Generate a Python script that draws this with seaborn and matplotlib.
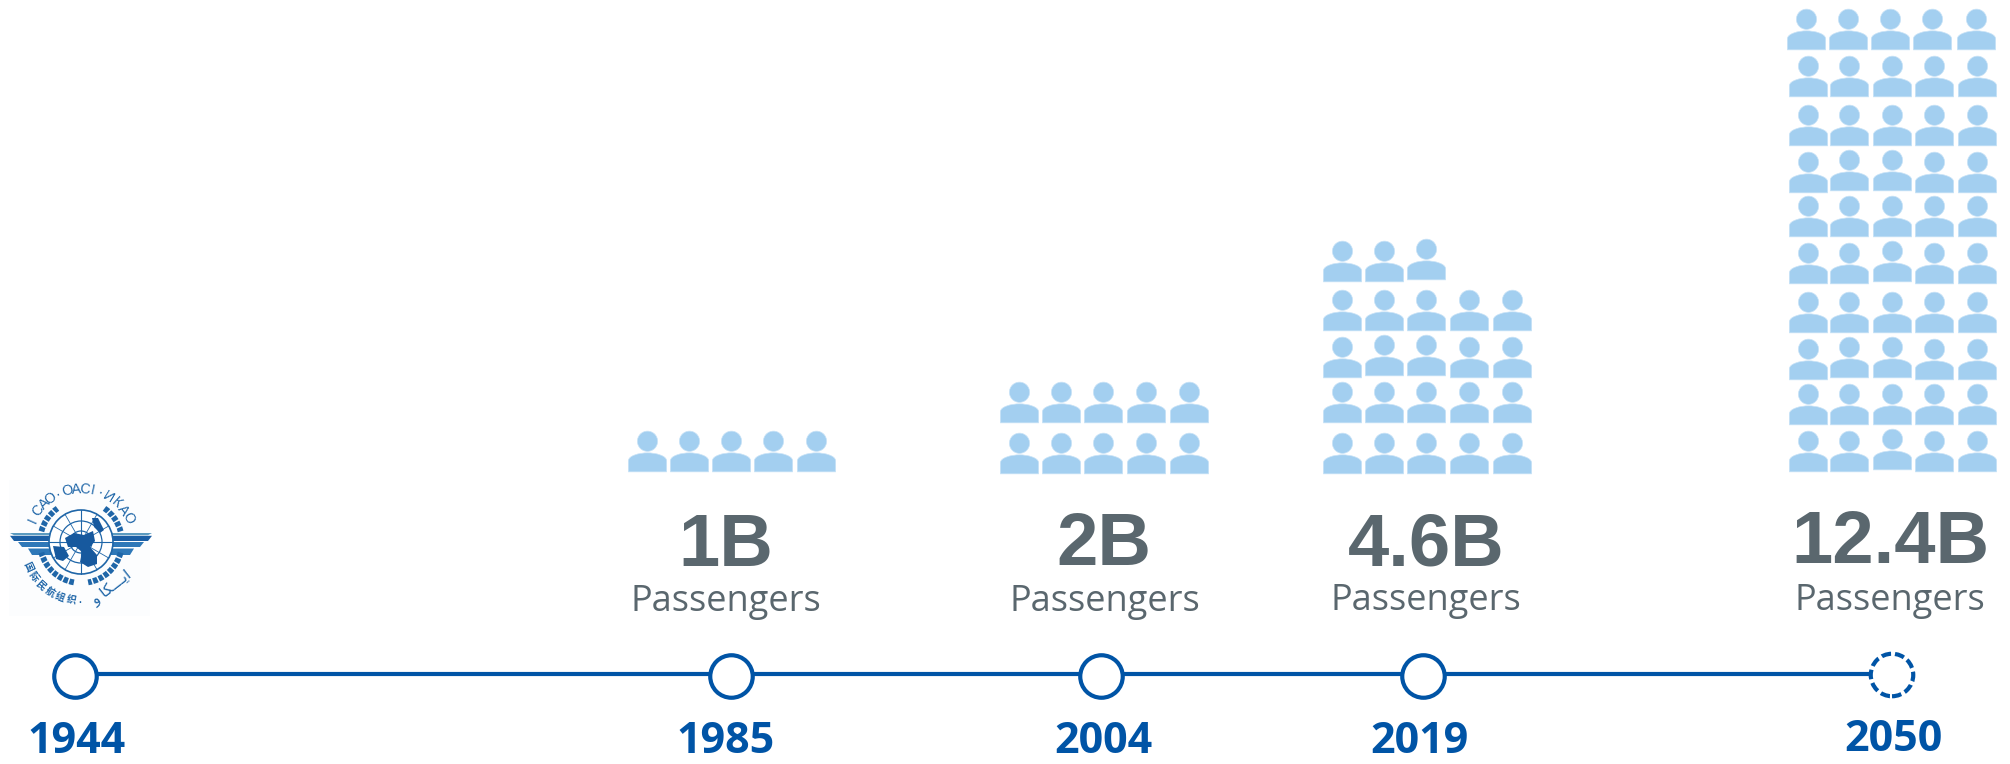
import numpy as np
import pandas as pd
import seaborn as sns
import matplotlib.pyplot as plt
from matplotlib.path import Path
from matplotlib.patches import Arc, Circle, Polygon, Rectangle

# chart values
years = ["1944", "1985", "2004", "2019", "2050"]
totals = [None, "1B", "2B", "4.6B", "12.4B"]
icon_rows = [[], [5], [5, 5], [5, 5, 5, 5, 3], [5] * 10]

# layout, in pixels of the 2010x764 canvas
year_x = [75, 731, 1101, 1423, 1892]
year_label_x = [76, 726, 1103, 1419, 1893]
year_label_y = [753, 753, 753, 753, 751]
total_x = [None, 726, 1104, 1426, 1890]
total_y = [None, 566, 565, 565, 563]
caption_x = [None, 726, 1105, 1426, 1890]
caption_y = [None, 611, 611, 610, 610]
column_x = [
    [],
    [[647, 689, 731, 773, 816]],
    [[1019, 1061, 1103, 1146, 1189]] * 2,
    [[1342, 1384, 1426, 1469, 1512]] * 5,
    [[1808, 1849, 1892, 1934, 1977]] * 9 + [[1806, 1848, 1890, 1932, 1976]],
]
row_y = [
    [],
    [471],
    [473, 422],
    [473, 422, 377, 330, 281],
    [471, 424, 379, 332, 283, 236, 192, 145, 96, 49],
]
# a few icons sit slightly higher than the rest of their row: (year index, row, col)
lifted = [(3, 2, 1), (3, 2, 2), (3, 4, 2),
          (4, 0, 2), (4, 2, 1), (4, 2, 2), (4, 4, 2), (4, 6, 1), (4, 6, 2)]

BLUE = "#0054A6"
GREY = "#5A676E"
ICON = "#A3CFF0"
LOGO = "#1F66A8"

sns.set_theme(style="white")
plt.rcParams['font.family'] = ['Open Sans', 'DejaVu Sans']

fig = plt.figure(figsize=(20.10, 7.64), dpi=100)
ax = fig.add_axes([0, 0, 1, 1])
ax.set_xlim(0, 2010)
ax.set_ylim(764, 0)
ax.axis("off")

# person marker, 40.7 tall, 38.3 wide
head = Path.unit_circle()
head = Path(head.vertices * 10.1 + [0, 10.25], head.codes)
body_verts = [(-19.15, -20.35), (-19.15, -9.5), (-19.15, -4), (-8, -1.35), (0, -1.35),
              (8, -1.35), (19.15, -4), (19.15, -9.5), (19.15, -20.35), (-19.15, -20.35)]
body_codes = [Path.MOVETO, Path.LINETO, Path.CURVE4, Path.CURVE4, Path.CURVE4,
              Path.CURVE4, Path.CURVE4, Path.CURVE4, Path.LINETO, Path.CLOSEPOLY]
person = Path.make_compound_path(Path(body_verts, body_codes), head)

rows = []
for i, counts in enumerate(icon_rows):
    for r, n in enumerate(counts):
        for c in range(n):
            lift = 2 if (i, r, c) in lifted else 0
            rows.append({"x": column_x[i][r][c], "y": row_y[i][r] - 20.35 - lift})
icons = pd.DataFrame(rows)
sns.scatterplot(data=icons, x="x", y="y", marker=person, s=859, color=ICON,
                edgecolor="#C9E3F7", linewidth=0.5, legend=False, ax=ax)

# timeline
line = pd.DataFrame({"x": year_x, "y": [674] * len(year_x)})
sns.lineplot(data=line, x="x", y="y", color=BLUE, linewidth=3, legend=False, ax=ax, zorder=2)
dots = pd.DataFrame({"x": year_x, "y": [676, 676, 676, 676, 675]})
sns.scatterplot(data=dots.iloc[:4], x="x", y="y", s=936, color="white", edgecolor=BLUE,
                linewidth=3, legend=False, ax=ax, zorder=3)
sns.scatterplot(data=dots.iloc[4:], x="x", y="y", s=936, color="white", edgecolor=BLUE,
                linewidth=3, linestyle=(0, (2.3, 0.95)), legend=False, ax=ax, zorder=3)

for i, y in enumerate(years):
    ax.text(year_label_x[i], year_label_y[i], y, color=BLUE, fontsize=31, fontweight="bold",
            ha="center", va="baseline")
    if totals[i]:
        ax.text(total_x[i], total_y[i], totals[i], color=GREY, fontsize=53.5, fontweight="bold",
                family="Liberation Sans", ha="center", va="baseline")
        ax.text(caption_x[i], caption_y[i], "Passengers", color=GREY, fontsize=26,
                ha="center", va="baseline")

# ICAO emblem
cx, cy = 81, 542
ax.add_patch(Rectangle((9, 480), 141, 136, color="#FCFDFE", lw=0, zorder=0))

for side in [-1, 1]:
    stripes = [(71, 533, 535.2, "#5B9BC0"), (71, 535.8, 541, "#1B5FA5"),
               (63, 542, 547, "#2E78B8"), (53, 548.5, 555, "#2E78B8")]
    for reach, y0, y1, col in stripes:
        # wing stripes taper towards the outer end
        ax.add_patch(Polygon([(cx + side * 20, y0), (cx + side * reach, y0),
                              (cx + side * (reach - 4), y1), (cx + side * 20, y1)],
                             color=col, lw=0, zorder=1))

# wreath, angles run clockwise because the y axis is inverted
for t0, t1 in [(15, 80), (100, 165), (195, 235), (305, 345)]:
    ax.add_patch(Arc((cx, cy), 82, 82, theta1=t0, theta2=t1, color=LOGO, lw=4.2,
                     linestyle=(0, (0.8, 0.25)), zorder=1))
ax.add_patch(Circle((cx, cy), 32, facecolor="white", edgecolor=LOGO, lw=1.2, zorder=2))
for r in [11, 21]:
    ax.add_patch(Circle((cx, cy), r, fill=False, edgecolor=LOGO, lw=0.9, zorder=3))
ax.plot([cx, cx], [cy - 32, cy + 32], color=LOGO, lw=0.8, zorder=3)
ax.plot([cx - 32, cx + 32], [cy, cy], color=LOGO, lw=0.8, zorder=3)
for a in [30, 60, 120, 150]:
    dx, dy = 32 * np.cos(np.radians(a)), 32 * np.sin(np.radians(a))
    ax.plot([cx - dx, cx + dx], [cy - dy, cy + dy], color=LOGO, lw=0.6, zorder=3)

land = [
    [(65, 538), (74, 533), (84, 535), (93, 531), (95, 541), (90, 547), (97, 555), (97, 564),
     (88, 567), (80, 562), (82, 552), (76, 547), (68, 547)],
    [(53, 546), (64, 547), (69, 556), (63, 561), (56, 559)],
    [(92, 518), (98, 518), (104, 530), (100, 533), (94, 527)],
]
for pts in land:
    ax.add_patch(Polygon(pts, color="#17599E", lw=0, zorder=4))

# lettering around the emblem, one rotated character at a time
def arc_text(chars, angles, radius, size, **kw):
    for ch, a in zip(chars, angles):
        t = np.radians(a)
        x, y = cx + radius * np.sin(t), cy - radius * np.cos(t)
        rot = -a if abs(a) <= 90 else 180 - a
        ax.text(x, y, ch, rotation=rot, rotation_mode="anchor", ha="center", va="center",
                fontsize=size, color=LOGO, zorder=5, **kw)

top_text = "ICAO·OACI·ИКАО"
top_angles = [-66, -54, -44, -35, -26, -15, -5, 4.5, 12, 21, 31.5, 42, 53, 63]
arc_text(top_text, top_angles, 53, 10.2, family="Liberation Sans")
arc_text("国际民航组织", [-115, -126, -137, -148, -159, -170], 59, 7,
         family=["Noto Sans CJK SC", "DejaVu Sans"], fontweight="bold")
ax.text(80, 602, "·", ha="center", va="center", fontsize=11, color=LOGO,
        family="Liberation Sans", zorder=5)
ax.text(112, 588, "\ufeed \ufe8e\ufedc\u0640\u0640\u0640\ufef3\ufe8d", rotation=38, rotation_mode="anchor",
        ha="center", va="center", fontsize=11, color=LOGO, family="DejaVu Sans", zorder=5)

plt.savefig("out.png", dpi=100)
